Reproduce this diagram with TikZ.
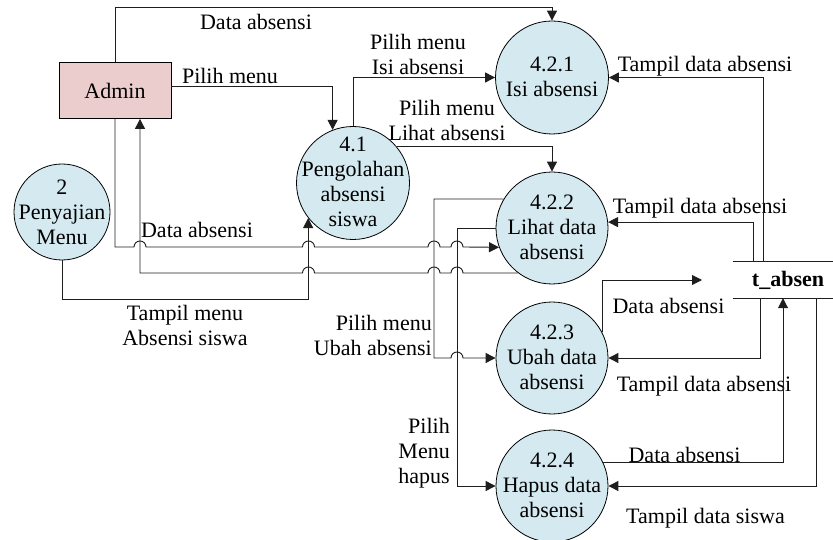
\documentclass[tikz,border=0pt]{standalone}
\usepackage{fontspec}
\setmainfont{Liberation Serif}
\usetikzlibrary{arrows.meta}
\definecolor{procfill}{RGB}{212,234,240}
\definecolor{extfill}{RGB}{235,205,205}
\definecolor{linec}{RGB}{30,30,30}
\begin{document}
\begin{tikzpicture}[x=1pt,y=-1pt,
  font=\fontsize{22}{25}\selectfont,
  proc/.style={circle,draw=black,line width=0.8pt,fill=procfill,minimum size=#1,inner sep=0pt},
  ptext/.style={align=center,inner sep=0pt},
  ext/.style={rectangle,draw=black,line width=0.8pt,fill=extfill,minimum width=112pt,minimum height=56pt,inner sep=0pt},
  lbl/.style={inner sep=0pt},
  flow/.style={draw=linec,line width=0.9pt},
  arr/.style={flow,-{Triangle[length=10pt,width=10pt]}},
  hopr/.style={},
]
\useasboundingbox (0,0) rectangle (833,540);

% ---------- nodes ----------
\node[ext] (admin) at (115,90.5) {Admin};

\node[proc=96pt] (c2) at (62,212) {};
\node[ptext] (c2t) at (62,212) {2\\Penyajian\\Menu};

\node[proc=113pt] (c41) at (353,183) {};
\node[ptext] (c41t) at (353,182) {4.1\\Pengolahan\\absensi\\siswa};

\node[proc=113pt] (c421) at (552,77.5) {};
\node[ptext] (c421t) at (552,77) {4.2.1\\Isi absensi};

\node[proc=112pt] (c422) at (552,228) {};
\node[ptext] (c422t) at (552,227) {4.2.2\\Lihat data\\absensi};

\node[proc=112pt] (c423) at (552,358) {};
\node[ptext] (c423t) at (552,357) {4.2.3\\Ubah data\\absensi};

\node[proc=112pt] (c424) at (552,486) {};
\node[ptext] (c424t) at (552,485) {4.2.4\\Hapus data\\absensi};

\node[minimum width=100pt,minimum height=36pt,inner sep=0pt] (st) at (783,280) {};
\node[lbl,font=\fontsize{22}{25}\selectfont\bfseries] (stt) at (788,280) {t\_absen};
\draw[flow] (st.north west) -- (st.north east);
\draw[flow] (st.south west) -- (st.south east);

% ---------- labels ----------
\node[lbl] (l1) at (256,22) {Data absensi};
\node[lbl] (l2) at (230,76) {Pilih menu};
\node[lbl,align=center] (l3) at (418,54) {Pilih menu\\Isi absensi};
\node[lbl,align=center] (l4) at (447,120) {Pilih menu\\Lihat absensi};
\node[lbl] (l5) at (197,230) {Data absensi};
\node[lbl,align=center] (l6) at (185,325) {Tampil menu\\Absensi siswa};
\node[lbl,align=right,anchor=east] (l7) at (432,335) {Pilih menu\\Ubah absensi};
\node[lbl,align=right,anchor=east] (l8) at (450,453) {Pilih\\Menu\\hapus};
\node[lbl] (r1) at (705,66) {Tampil data absensi};
\node[lbl] (r2) at (700,208) {Tampil data absensi};
\node[lbl] (r3) at (668.5,306) {Data absensi};
\node[lbl] (r4) at (704,386) {Tampil data absensi};
\node[lbl] (r5) at (684.5,455) {Data absensi};
\node[lbl] (r6) at (705.5,518) {Tampil data siswa};

% ---------- connectors (left part) ----------
\coordinate (ktop) at (552,7);
\draw[arr] (admin.north) |- (ktop) -- (c421.north);
\draw[arr] ([yshift=4.5pt]admin.east) -| (c41.111);
\draw[arr] (c41.north) |- (c421.west);
\draw[arr] (c41.40) -| (c422.north);
\draw[arr] (c2.south) -- (62,299) -| (c41.218);

% Admin -> 4.2.2 (with line hops)
\draw[arr] (admin.south) -- (115,247) -- (134,247)
  arc[start angle=180,end angle=0,radius=6pt] -- (302.5,247)
  arc[start angle=180,end angle=0,radius=6pt] -- (428,247)
  arc[start angle=180,end angle=0,radius=6pt] -- (451,247)
  arc[start angle=180,end angle=0,radius=6pt] -- (c422.200);

% 4.2.2 -> Admin (with line hops)
\draw[arr] (c422.233) -- (463,273)
  arc[start angle=0,end angle=180,radius=6pt] -- (440,273)
  arc[start angle=0,end angle=180,radius=6pt] -- (314.5,273)
  arc[start angle=0,end angle=180,radius=6pt] -- (140,273)
  -- (140,0 |- admin.south);

% 4.2.2 -> 4.2.3 and 4.2.4
\draw[arr] (c422.149) -- (434,0 |- c422.149) -- (434,358) -- (451,358)
  arc[start angle=180,end angle=0,radius=6pt] -- (c423.west);
\draw[arr] (c422.west) -- (457,0 |- c422.west) |- (c424.west);

% ---------- connectors (right part) ----------
\draw[arr] (763,0 |- st.north) |- (c421.east);
\draw[arr] (753,0 |- st.north) |- (c422.6);
\coordinate (da3) at (702,280);
\draw[arr] (c423.27) |- (da3);
\draw[arr] (760,0 |- st.south) |- (c423.east);
\draw[arr] (c424.25) -| (783,0 |- st.south);
\draw[arr] (816,0 |- st.south) |- (c424.east);
\end{tikzpicture}
\end{document}
